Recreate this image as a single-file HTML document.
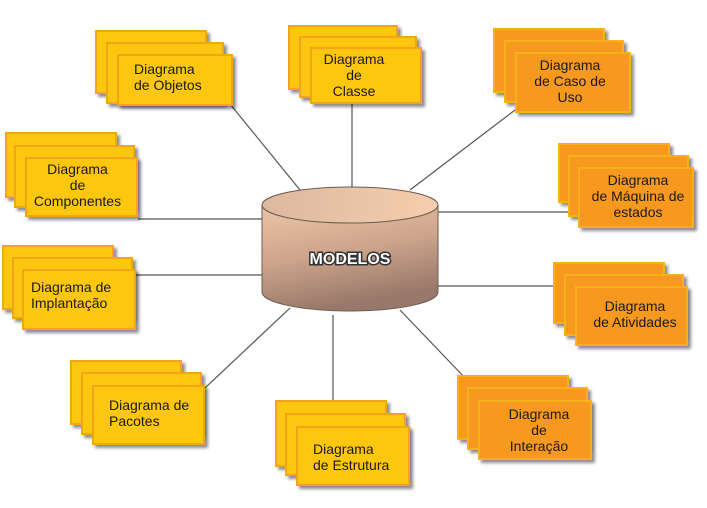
<!DOCTYPE html>
<html><head><meta charset="utf-8"><style>
body{margin:0;width:707px;height:508px;background:#fff;position:relative;overflow:hidden;font-family:"Liberation Sans",Arial,sans-serif}
.b{position:absolute;box-sizing:border-box;border:2px solid #f3a51a;background:#fcc70e;box-shadow:3px 3px 3px rgba(0,0,0,.45)}
.o .b{background:#f7981f;border-color:#f6b11a}
.t{position:absolute;display:flex;align-items:center;justify-content:center;text-align:center;font-size:14px;line-height:16px;color:#1a1a1a}
.l{text-align:left;justify-content:flex-start}
svg{position:absolute;left:0;top:0}
</style></head><body>
<svg width="707" height="508">
<g stroke="#555" stroke-width="1.2">
<line x1="230" y1="104" x2="300" y2="190"/>
<line x1="352" y1="103" x2="352" y2="188"/>
<line x1="410" y1="190" x2="515" y2="110"/>
<line x1="138" y1="219" x2="262" y2="219"/>
<line x1="438" y1="212" x2="578" y2="212"/>
<line x1="135" y1="275" x2="262" y2="275"/>
<line x1="438" y1="286" x2="575" y2="286"/>
<line x1="205" y1="388" x2="290" y2="308"/>
<line x1="333" y1="315" x2="333" y2="428"/>
<line x1="400" y1="310" x2="467" y2="380"/>
</g>
<defs><linearGradient id="g" x1="0" y1="0" x2="0.3" y2="1"><stop offset="0" stop-color="#ecc6a6"/><stop offset="0.5" stop-color="#cfa68d"/><stop offset="1" stop-color="#98786a"/></linearGradient>
<linearGradient id="g2" x1="0" y1="0" x2="1" y2="0"><stop offset="0" stop-color="#dcb89e"/><stop offset="1" stop-color="#f5ceae"/></linearGradient></defs>
<path d="M262 205 L262 292 A88 19 0 0 0 438 292 L438 205 Z" fill="url(#g)" stroke="#6e5a50" stroke-width="1"/>
<ellipse cx="350" cy="205" rx="88" ry="18" fill="url(#g2)" stroke="#6e5a50" stroke-width="1"/>
<text x="350" y="264" text-anchor="middle" font-family="Liberation Sans,Arial,sans-serif" font-weight="bold" font-size="16" fill="#fff" stroke="#333" stroke-width="3" paint-order="stroke">MODELOS</text>
</svg>

<div>
<div class="b" style="left:95px;top:30px;width:112px;height:64px"></div>
<div class="b" style="left:106px;top:42px;width:118px;height:62px"></div>
<div class="b" style="left:117px;top:54px;width:116px;height:52px"></div>
<div class="t l" style="left:134px;top:54px;width:100px;height:46px">Diagrama<br>de Objetos</div>
</div>

<div>
<div class="b" style="left:288px;top:25px;width:110px;height:65px"></div>
<div class="b" style="left:299px;top:36px;width:118px;height:62px"></div>
<div class="b" style="left:310px;top:47px;width:112px;height:57px"></div>
<div class="t" style="left:310px;top:47px;width:88px;height:55px">Diagrama<br>de<br>Classe</div>
</div>

<div class="o">
<div class="b" style="left:493px;top:28px;width:112px;height:65px"></div>
<div class="b" style="left:504px;top:40px;width:120px;height:63px"></div>
<div class="b" style="left:515px;top:52px;width:116px;height:61px"></div>
<div class="t" style="left:515px;top:52px;width:110px;height:57px">Diagrama<br>de Caso de<br>Uso</div>
</div>

<div>
<div class="b" style="left:5px;top:132px;width:112px;height:66px"></div>
<div class="b" style="left:14px;top:145px;width:121px;height:63px"></div>
<div class="b" style="left:25px;top:157px;width:113px;height:60px"></div>
<div class="t" style="left:25px;top:157px;width:105px;height:56px">Diagrama<br>de<br>Componentes</div>
</div>

<div class="o">
<div class="b" style="left:558px;top:143px;width:112px;height:60px"></div>
<div class="b" style="left:568px;top:155px;width:121px;height:62px"></div>
<div class="b" style="left:578px;top:167px;width:116px;height:61px"></div>
<div class="t" style="left:578px;top:167px;width:120px;height:57px">Diagrama<br>de Máquina de<br>estados</div>
</div>

<div>
<div class="b" style="left:2px;top:245px;width:112px;height:65px"></div>
<div class="b" style="left:12px;top:257px;width:121px;height:62px"></div>
<div class="b" style="left:22px;top:269px;width:114px;height:61px"></div>
<div class="t l" style="left:31px;top:269px;width:100px;height:52px">Diagrama de<br>Implantação</div>
</div>

<div class="o">
<div class="b" style="left:553px;top:262px;width:112px;height:62px"></div>
<div class="b" style="left:564px;top:274px;width:120px;height:62px"></div>
<div class="b" style="left:575px;top:286px;width:113px;height:60px"></div>
<div class="t" style="left:575px;top:286px;width:120px;height:56px">Diagrama<br>de Atividades</div>
</div>

<div>
<div class="b" style="left:70px;top:360px;width:112px;height:65px"></div>
<div class="b" style="left:81px;top:372px;width:121px;height:63px"></div>
<div class="b" style="left:92px;top:385px;width:113px;height:60px"></div>
<div class="t l" style="left:109px;top:385px;width:96px;height:56px">Diagrama de<br>Pacotes</div>
</div>

<div>
<div class="b" style="left:275px;top:400px;width:112px;height:67px"></div>
<div class="b" style="left:285px;top:413px;width:121px;height:63px"></div>
<div class="b" style="left:296px;top:426px;width:114px;height:60px"></div>
<div class="t l" style="left:313px;top:426px;width:96px;height:62px">Diagrama<br>de Estrutura</div>
</div>

<div class="o">
<div class="b" style="left:457px;top:375px;width:112px;height:65px"></div>
<div class="b" style="left:467px;top:387px;width:121px;height:63px"></div>
<div class="b" style="left:478px;top:400px;width:114px;height:60px"></div>
<div class="t" style="left:478px;top:400px;width:122px;height:60px">Diagrama<br>de<br>Interação</div>
</div>
</body></html>
